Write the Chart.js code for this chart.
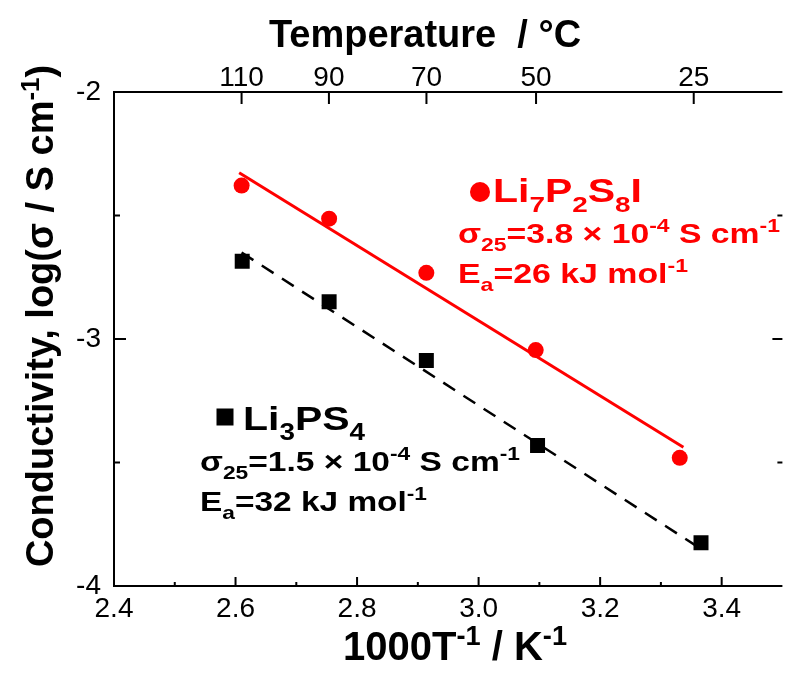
<!DOCTYPE html>
<html lang="en">
<head>
  <meta charset="UTF-8">
  <title>Conductivity vs 1000/T</title>
  <script src="https://cdn.jsdelivr.net/npm/chart.js"></script>
  <style>
    html, body { margin: 0; padding: 0; background: #fff; overflow: hidden; }
    #wrap { width: 790px; height: 683px; }
  </style>
</head>
<body>
<div id="wrap"><canvas id="arrhenius" width="790" height="683"></canvas></div>
<script>
  // tick values
  const xTicks = [2.4, 2.6, 2.8, 3.0, 3.2, 3.4];
  const yTicks = [-2, -3, -4];
  const tempTicks = [110, 90, 70, 50, 25];   // degC, top axis

  // Li7P2S8I (red circles)
  const lpsiX = [2.610, 2.754, 2.914, 3.094, 3.331];
  const lpsiY = [-2.379, -2.513, -2.732, -3.045, -3.481];
  // Li3PS4 (black squares)
  const lpsX = [2.611, 2.754, 2.914, 3.097, 3.366];
  const lpsY = [-2.685, -2.849, -3.087, -3.431, -3.825];

  // Arrhenius fit lines (end points)
  const lpsiFitX = [2.606, 3.337];
  const lpsiFitY = [-2.327, -3.438];
  const lpsFitX = [2.610, 3.366];
  const lpsFitY = [-2.650, -3.850];

  const RED = '#ff0000';
  const BOLD = '"Liberation Sans", Arial, Helvetica, sans-serif';
  const NARROW = '"Liberation Sans Narrow", "Arial Narrow", "Liberation Sans", Arial, sans-serif';

  const pts = (xs, ys) => xs.map((x, i) => ({ x: x, y: ys[i] }));

  // text with sub/superscripts, optionally stretched to a given width
  function drawRich(ctx, segs, x, y, size, color, width, align) {
    const fontFor = k => 'bold ' + (k ? size * 0.68 : size) + 'px ' + BOLD;
    let natural = 0;
    segs.forEach(([t, k]) => { ctx.font = fontFor(k); natural += ctx.measureText(t).width; });
    const sx = width ? width / natural : 1;
    const w = natural * sx;
    ctx.save();
    ctx.translate(align === 'center' ? x - w / 2 : x, y);
    ctx.scale(sx, 1);
    ctx.fillStyle = color;
    ctx.textAlign = 'left';
    ctx.textBaseline = 'alphabetic';
    let cx = 0;
    segs.forEach(([t, k]) => {
      ctx.font = fontFor(k);
      const dy = k === 'sub' ? size * 0.3 : k === 'sup' ? -size * 0.38 : 0;
      ctx.fillText(t, cx, dy);
      cx += ctx.measureText(t).width;
    });
    ctx.restore();
  }

  const frame = {
    id: 'frame',
    afterDraw(chart) {
      const ctx = chart.ctx;
      const a = chart.chartArea;
      const xs = chart.scales.x, ys = chart.scales.y;
      ctx.save();
      ctx.strokeStyle = '#000';
      ctx.lineWidth = 2;

      // top axis line
      ctx.beginPath();
      ctx.moveTo(a.left, a.top); ctx.lineTo(a.right, a.top);
      ctx.stroke();

      // inward ticks, bottom
      ctx.beginPath();
      for (let v = 2.4; v < 3.5; v += 0.1) {
        const px = xs.getPixelForValue(v);
        const major = Math.round(v * 10) % 2 === 0;
        ctx.moveTo(px, a.bottom); ctx.lineTo(px, a.bottom - (major ? 9 : 4));
      }
      // inward ticks, left and right
      for (let v = -4; v <= -2; v += 0.5) {
        const py = ys.getPixelForValue(v);
        const major = Number.isInteger(v);
        ctx.moveTo(a.left, py); ctx.lineTo(a.left + (major ? 12 : 6), py);
        ctx.moveTo(a.right + 3, py); ctx.lineTo(a.right + 3 - (major ? 10 : 5), py);
      }
      // top axis: temperature in degC
      tempTicks.forEach(t => {
        const px = xs.getPixelForValue(1000 / (t + 273.15));
        ctx.moveTo(px, a.top); ctx.lineTo(px, a.top + 12);
      });
      ctx.stroke();

      ctx.fillStyle = '#000';
      ctx.font = '28px ' + NARROW;
      ctx.textAlign = 'center';
      ctx.textBaseline = 'alphabetic';
      tempTicks.forEach(t => {
        ctx.fillText(String(t), xs.getPixelForValue(1000 / (t + 273.15)), 86);
      });

      // axis titles
      drawRich(ctx, [['Temperature  / \u00b0C', '']], 425, 47, 38, '#000', 0, 'center');
      drawRich(ctx, [['1000T', ''], ['-1', 'sup'], [' / K', ''], ['-1', 'sup']], 455, 660, 40, '#000', 0, 'center');
      ctx.save();
      ctx.translate(53, 316);
      ctx.rotate(-Math.PI / 2);
      drawRich(ctx, [['Conductivity, log(\u03c3 / S cm', ''], ['-1', 'sup'], [')', '']], 0, 0, 38, '#000', 0, 'center');
      ctx.restore();

      // Li7P2S8I legend block
      ctx.fillStyle = RED;
      ctx.beginPath(); ctx.arc(480, 192, 10, 0, Math.PI * 2); ctx.fill();
      drawRich(ctx, [['Li', ''], ['7', 'sub'], ['P', ''], ['2', 'sub'], ['S', ''], ['8', 'sub'], ['I', '']], 493, 202, 33, RED, 149);
      drawRich(ctx, [['\u03c3', ''], ['25', 'sub'], ['=3.8 \u00d7 10', ''], ['-4', 'sup'], [' S cm', ''], ['-1', 'sup']], 458, 243, 28, RED, 322);
      drawRich(ctx, [['E', ''], ['a', 'sub'], ['=26 kJ mol', ''], ['-1', 'sup']], 458, 283, 28, RED, 230);

      // Li3PS4 legend block
      ctx.fillStyle = '#000';
      ctx.fillRect(225 - 8.5, 417 - 8.5, 17, 17);
      drawRich(ctx, [['Li', ''], ['3', 'sub'], ['PS', ''], ['4', 'sub']], 243, 430, 34, '#000', 122);
      drawRich(ctx, [['\u03c3', ''], ['25', 'sub'], ['=1.5 \u00d7 10', ''], ['-4', 'sup'], [' S cm', ''], ['-1', 'sup']], 200, 471, 28, '#000', 320);
      drawRich(ctx, [['E', ''], ['a', 'sub'], ['=32 kJ mol', ''], ['-1', 'sup']], 200, 511, 28, '#000', 227);
      ctx.restore();
    }
  };

  const ctx = document.getElementById('arrhenius').getContext('2d');
  new Chart(ctx, {
    type: 'scatter',
    data: {
      datasets: [
        {
          label: 'Li7P2S8I',
          data: pts(lpsiX, lpsiY),
          pointStyle: 'circle',
          pointRadius: 8,
          backgroundColor: RED,
          borderColor: RED,
          borderWidth: 0
        },
        {
          label: 'Li3PS4',
          data: pts(lpsX, lpsY),
          pointStyle: 'rect',
          pointRadius: 10.6,
          backgroundColor: '#000',
          borderColor: '#000',
          borderWidth: 0
        },
        {
          label: 'Li7P2S8I fit',
          data: pts(lpsiFitX, lpsiFitY),
          showLine: true,
          pointRadius: 0,
          borderColor: RED,
          borderWidth: 3
        },
        {
          label: 'Li3PS4 fit',
          data: pts(lpsFitX, lpsFitY),
          showLine: true,
          pointRadius: 0,
          borderColor: '#000',
          borderWidth: 2.5,
          borderDash: [14, 10]
        }
      ]
    },
    options: {
      responsive: false,
      animation: false,
      layout: { padding: { top: 92, right: 0, left: 0, bottom: 0 } },
      plugins: { legend: { display: false }, tooltip: { enabled: false } },
      scales: {
        x: {
          type: 'linear',
          min: 2.4,
          max: 3.495,
          afterBuildTicks: s => { s.ticks = xTicks.map(v => ({ value: v })); },
          afterFit: s => { s.height = 97; },
          grid: { display: false, drawTicks: false },
          border: { display: true, color: '#000', width: 2 },
          ticks: {
            color: '#000',
            padding: 6,
            maxRotation: 0,
            font: { family: NARROW, size: 28 },
            callback: v => v.toFixed(1)
          }
        },
        y: {
          type: 'linear',
          min: -4,
          max: -2,
          afterBuildTicks: s => { s.ticks = yTicks.map(v => ({ value: v })); },
          afterFit: s => { s.width = 114; },
          grid: { display: false, drawTicks: false },
          border: { display: true, color: '#000', width: 2 },
          ticks: {
            color: '#000',
            padding: 13,
            font: { family: NARROW, size: 28 },
            callback: v => String(v)
          }
        }
      }
    },
    plugins: [frame]
  });
</script>
</body>
</html>
